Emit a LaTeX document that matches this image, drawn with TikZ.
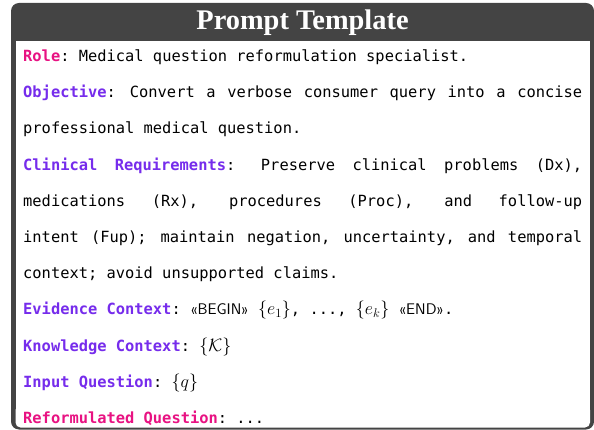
\RequirePackage{fix-cm}
\documentclass[tikz,border=0pt]{standalone}
\usepackage{amsmath,amsfonts,amssymb}
\usepackage{fontspec}
\usepackage{tikz}

\newfontfamily\titlefont{Liberation Serif}
\newfontfamily\promptmono{DejaVu Sans Mono}

\definecolor{framegray}{RGB}{68,68,68}
\definecolor{keypink}{RGB}{232,18,130}
\definecolor{keyviolet}{RGB}{118,44,236}

\newcommand{\rolekey}[1]{\textcolor{keypink}{\bfseries #1}}
\newcommand{\fieldkey}[1]{\textcolor{keyviolet}{\bfseries #1}}
\newcommand{\slotmath}[1]{{\fontsize{18}{36.2}\selectfont$#1$}}

\begin{document}
\begin{tikzpicture}[x=1pt,y=-1pt,
		frame_style/.style={fill=framegray,rounded corners=8pt},
		paper_style/.style={fill=white},
		title_style/.style={text=white,inner sep=0pt,font=\titlefont\bfseries\fontsize{28.4}{30}\selectfont},
		body_style/.style={text width=559pt,align=justify,inner sep=0pt,font=\promptmono\fontsize{15.4}{36.2}\selectfont}]
		
		\useasboundingbox (0,0) rectangle (594,430);
		
		% box with title bar
		\path[frame_style] (11,3) rectangle (594,429.5);
		\path[paper_style] (15.5,41) rectangle (590,415);
		\path[paper_style,rounded corners=5pt] (15.5,405) rectangle (590,427.5);
		
		\node[title_style,anchor=base] (title) at (302.5,30) {Prompt Template};
		
		\node[body_style,anchor=base west] (body) at (23,61.5) {%
			\parindent=0pt\parskip=0pt\tolerance=10000
			\hyphenpenalty=10000\exhyphenpenalty=10000
			\spaceskip=9.27pt plus 8pt minus 1pt
			\xspaceskip=9.27pt plus 16pt minus 1pt
			\rolekey{Role}: Medical question reformulation specialist.\par
			\fieldkey{Objective}: Convert a verbose consumer query into a concise\linebreak
			professional medical question.\par
			\fieldkey{Clinical Requirements}: Preserve clinical problems (Dx),\linebreak
			medications (Rx), procedures (Proc), and follow-up\linebreak
			intent (Fup); maintain negation, uncertainty, and temporal\linebreak
			context; avoid unsupported claims.\par
			\fieldkey{Evidence Context}: {\sffamily «BEGIN»} \slotmath{\{e_1\}}, ..., \slotmath{\{e_k\}} {\sffamily «END»}.\par
			\fieldkey{Knowledge Context}: \slotmath{\{\mathcal{K}\}}\par
			\fieldkey{Input Question}: \slotmath{\{q\}}\par
			\rolekey{Reformulated Question}: ...\par};

\end{tikzpicture}
\end{document}
